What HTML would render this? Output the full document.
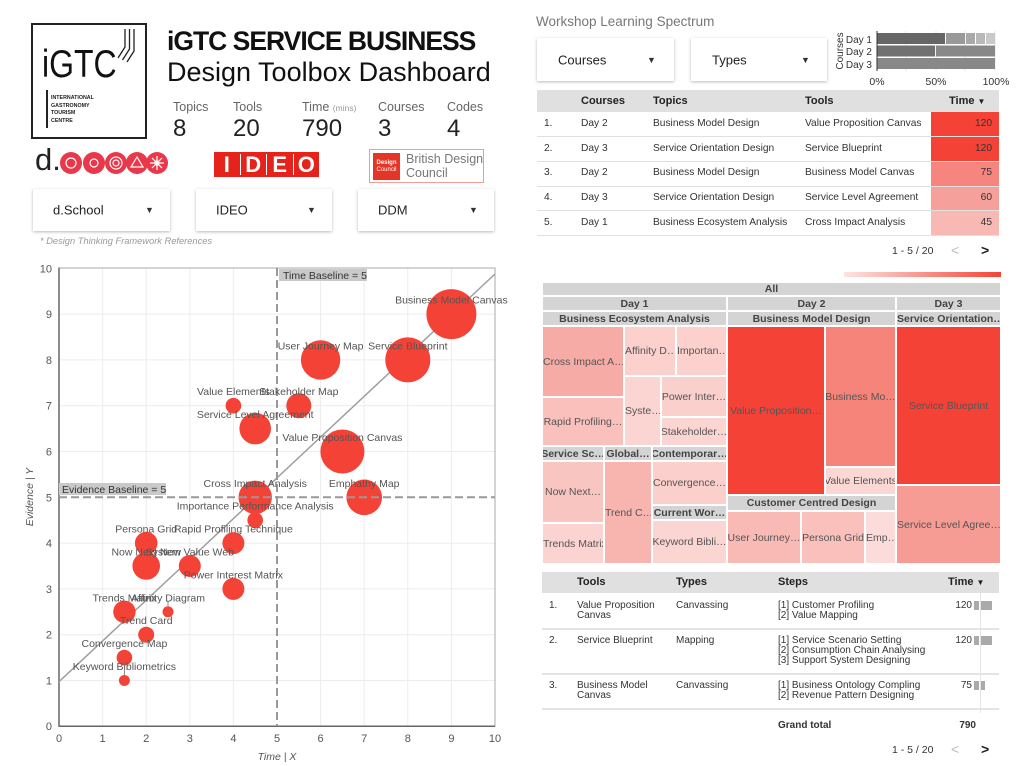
<!DOCTYPE html>
<html><head><meta charset="utf-8">
<style>
*{margin:0;padding:0;box-sizing:border-box}
body{width:1023px;height:766px;background:#fff;position:relative;overflow:hidden;font-family:"Liberation Sans",Arial,sans-serif;color:#222}
.a{position:absolute}
.dd{position:absolute;background:#fff;box-shadow:0 1px 3px rgba(0,0,0,.28);font-size:13px;color:#222}
.dd span{position:absolute;top:50%;transform:translateY(-50%)}
.dd i{position:absolute;top:50%;transform:translateY(-50%);font-style:normal;font-size:9px;color:#333}
.kl{position:absolute;font-size:12.5px;color:#666}
.kv{position:absolute;font-size:24px;color:#222}
.tb{position:absolute;font-size:10.2px;color:#333;white-space:nowrap}
.th{position:absolute;font-size:11px;font-weight:bold;color:#222;white-space:nowrap}
.tm{position:absolute;border:1px solid #fff;overflow:hidden;white-space:nowrap;display:flex;align-items:center;justify-content:center;font-size:10.5px;color:#555}
.tm.h{background:#d4d4d4;font-weight:bold;color:#444;font-size:10.5px}
.sm{position:absolute;font-size:10px;color:#333;white-space:nowrap;line-height:10px}
.ideo{flex:1;color:#fff;font-weight:bold;font-size:22px;line-height:21px;text-align:center;border-right:1px solid #fff}
</style></head><body>

<!-- Logo -->
<div class="a" style="left:31px;top:23px;width:116px;height:116px;border:2.5px solid #222"></div>
<div class="a" style="left:42px;top:41px;font-size:39px;color:#111;transform:scaleX(0.82);transform-origin:left top;line-height:48px">iGTC</div>
<div class="a" style="left:46px;top:90px;width:1.5px;height:38px;background:#222"></div>
<div class="a" style="left:51px;top:95px;font-size:5.3px;font-weight:bold;line-height:7.6px;color:#222">INTERNATIONAL<br>GASTRONOMY<br>TOURISM<br>CENTRE</div>

<!-- Title -->
<div class="a" style="left:167px;top:26px;font-size:26.5px;font-weight:bold;letter-spacing:-1px;color:#111;line-height:30px">iGTC SERVICE BUSINESS</div>
<div class="a" style="left:167px;top:56px;font-size:27px;color:#111;line-height:32px">Design Toolbox Dashboard</div>

<!-- KPIs -->
<div class="kl" style="left:173px;top:100px">Topics</div>
<div class="kl" style="left:233px;top:100px">Tools</div>
<div class="kl" style="left:302px;top:100px">Time <span style="font-size:8.5px;color:#999">(mins)</span></div>
<div class="kl" style="left:378px;top:100px">Courses</div>
<div class="kl" style="left:447px;top:100px">Codes</div>
<div class="kv" style="left:173px;top:115px">8</div>
<div class="kv" style="left:233px;top:115px">20</div>
<div class="kv" style="left:302px;top:115px">790</div>
<div class="kv" style="left:378px;top:115px">3</div>
<div class="kv" style="left:447px;top:115px">4</div>

<!-- d.school -->
<div class="a" style="left:35px;top:143px;font-size:31px;color:#222;line-height:34px">d.</div>

<!-- IDEO -->
<div class="a" style="left:214px;top:152px;width:105px;height:25px;background:#e5231b;display:flex;padding:2px 0">
<div class="ideo">I</div>
<div class="ideo">D</div>
<div class="ideo">E</div>
<div class="ideo" style="border-right:none">O</div>
</div>

<!-- Design council -->
<div class="a" style="left:369px;top:149px;width:115px;height:34px;border:1.5px solid #f19a96"></div>
<div class="a" style="left:373px;top:153px;width:27px;height:27px;background:#e53527;color:#fff;font-size:6px;font-weight:bold;line-height:7px;padding-top:7px;text-align:center">Design<br><span style="font-weight:normal">Council</span></div>
<div class="a" style="left:406px;top:153px;font-size:12.5px;color:#777;line-height:13.5px">British Design<br>Council</div>

<!-- Dropdowns -->
<div class="dd" style="left:33px;top:189px;width:137px;height:42px"><span style="left:20px">d.School</span><i style="left:112px">▼</i></div>
<div class="dd" style="left:196px;top:189px;width:136px;height:42px"><span style="left:20px">IDEO</span><i style="left:111px">▼</i></div>
<div class="dd" style="left:358px;top:189px;width:136px;height:42px"><span style="left:20px">DDM</span><i style="left:111px">▼</i></div>
<div class="a" style="left:40px;top:236px;font-size:9.3px;font-style:italic;color:#999">* Design Thinking Framework References</div>

<!-- Top right -->
<div class="a" style="left:536px;top:14px;font-size:13.5px;color:#777">Workshop Learning Spectrum</div>
<div class="dd" style="left:537px;top:38px;width:137px;height:43px"><span style="left:21px">Courses</span><i style="left:110px">▼</i></div>
<div class="dd" style="left:691px;top:38px;width:136px;height:43px"><span style="left:21px">Types</span><i style="left:110px">▼</i></div>

<!-- Top table -->
<div class="a" style="left:537px;top:90px;width:462px;height:22px;background:#e0e0e0"></div>
<div class="th" style="left:581px;top:95px">Courses</div>
<div class="th" style="left:653px;top:95px">Topics</div>
<div class="th" style="left:805px;top:95px">Tools</div>
<div class="th" style="left:949px;top:95px">Time <span style="font-size:8px">▼</span></div>

<div class="a" style="left:931px;top:112px;width:68px;height:24px;background:#f44336"></div>
<div class="a" style="left:931px;top:137px;width:68px;height:24px;background:#f44336"></div>
<div class="a" style="left:931px;top:162px;width:68px;height:24px;background:#f6867d"></div>
<div class="a" style="left:931px;top:187px;width:68px;height:23px;background:#f5a09a"></div>
<div class="a" style="left:931px;top:211px;width:68px;height:24px;background:#f8b8b3"></div>
<div class="a" style="left:537px;top:136px;width:462px;height:1px;background:#e0e0e0"></div>
<div class="a" style="left:537px;top:161px;width:462px;height:1px;background:#e0e0e0"></div>
<div class="a" style="left:537px;top:186px;width:462px;height:1px;background:#e0e0e0"></div>
<div class="a" style="left:537px;top:210px;width:462px;height:1px;background:#e0e0e0"></div>
<div class="a" style="left:537px;top:235px;width:462px;height:1px;background:#e0e0e0"></div>

<div class="tb" style="left:544px;top:118px">1.</div><div class="tb" style="left:581px;top:118px">Day 2</div><div class="tb" style="left:653px;top:118px">Business Model Design</div><div class="tb" style="left:805px;top:118px">Value Proposition Canvas</div><div class="tb" style="left:962px;top:118px;width:30px;text-align:right">120</div>
<div class="tb" style="left:544px;top:143px">2.</div><div class="tb" style="left:581px;top:143px">Day 3</div><div class="tb" style="left:653px;top:143px">Service Orientation Design</div><div class="tb" style="left:805px;top:143px">Service Blueprint</div><div class="tb" style="left:962px;top:143px;width:30px;text-align:right">120</div>
<div class="tb" style="left:544px;top:167px">3.</div><div class="tb" style="left:581px;top:167px">Day 2</div><div class="tb" style="left:653px;top:167px">Business Model Design</div><div class="tb" style="left:805px;top:167px">Business Model Canvas</div><div class="tb" style="left:962px;top:167px;width:30px;text-align:right">75</div>
<div class="tb" style="left:544px;top:192px">4.</div><div class="tb" style="left:581px;top:192px">Day 3</div><div class="tb" style="left:653px;top:192px">Service Orientation Design</div><div class="tb" style="left:805px;top:192px">Service Level Agreement</div><div class="tb" style="left:962px;top:192px;width:30px;text-align:right">60</div>
<div class="tb" style="left:544px;top:217px">5.</div><div class="tb" style="left:581px;top:217px">Day 1</div><div class="tb" style="left:653px;top:217px">Business Ecosystem Analysis</div><div class="tb" style="left:805px;top:217px">Cross Impact Analysis</div><div class="tb" style="left:962px;top:217px;width:30px;text-align:right">45</div>

<div class="tb" style="left:892px;top:245px;font-size:10.5px">1 - 5 / 20</div>
<div class="tb" style="left:951px;top:242px;font-size:14px;color:#bbb">&lt;</div>
<div class="tb" style="left:981px;top:242px;font-size:14px;color:#222;font-weight:bold">&gt;</div>

<!-- Treemap -->
<div class="a" style="left:844px;top:272px;width:157px;height:5px;background:linear-gradient(to right,#fde4e2,#f44336)"></div>
<div class="tm h" style="left:542px;top:282px;width:459px;height:14px">All</div>
<div class="tm h" style="left:542px;top:296px;width:185px;height:15px">Day 1</div>
<div class="tm h" style="left:727px;top:296px;width:169px;height:15px">Day 2</div>
<div class="tm h" style="left:896px;top:296px;width:105px;height:15px">Day 3</div>
<div class="tm h" style="left:542px;top:311px;width:185px;height:15px">Business Ecosystem Analysis</div>
<div class="tm h" style="left:727px;top:311px;width:169px;height:15px">Business Model Design</div>
<div class="tm h" style="left:896px;top:311px;width:105px;height:15px;justify-content:flex-start">Service Orientation…</div>

<div class="tm" style="left:542px;top:326px;width:82px;height:71px;background:#f7aba6;justify-content:flex-start">Cross Impact A…</div>
<div class="tm" style="left:624px;top:326px;width:52px;height:50px;background:#fbd0cd;justify-content:flex-start">Affinity D…</div>
<div class="tm" style="left:676px;top:326px;width:51px;height:50px;background:#fbd0cd;justify-content:flex-start">Importan…</div>
<div class="tm" style="left:624px;top:376px;width:37px;height:70px;background:#fbd5d2;justify-content:flex-start">Syste…</div>
<div class="tm" style="left:661px;top:376px;width:66px;height:41px;background:#fad0cc">Power Inter…</div>
<div class="tm" style="left:661px;top:417px;width:66px;height:29px;background:#fbd5d2">Stakeholder…</div>
<div class="tm" style="left:542px;top:397px;width:82px;height:49px;background:#f9c0bc">Rapid Profiling…</div>
<div class="tm h" style="left:542px;top:446px;width:62px;height:15px">Service Sc…</div>
<div class="tm h" style="left:604px;top:446px;width:48px;height:15px">Global…</div>
<div class="tm h" style="left:652px;top:446px;width:75px;height:15px">Contemporar…</div>
<div class="tm" style="left:542px;top:461px;width:62px;height:62px;background:#f9c5c1">Now Next…</div>
<div class="tm" style="left:542px;top:523px;width:62px;height:41px;background:#fbd3d0;justify-content:flex-start">Trends Matrix</div>
<div class="tm" style="left:604px;top:461px;width:48px;height:103px;background:#f8b4af;justify-content:flex-start">Trend C…</div>
<div class="tm" style="left:652px;top:461px;width:75px;height:44px;background:#fbcfcb">Convergence…</div>
<div class="tm h" style="left:652px;top:505px;width:75px;height:15px">Current Wor…</div>
<div class="tm" style="left:652px;top:520px;width:75px;height:44px;background:#fbd5d2">Keyword Bibli…</div>
<div class="tm" style="left:727px;top:326px;width:98px;height:169px;background:#f44336">Value Proposition…</div>
<div class="tm" style="left:825px;top:326px;width:71px;height:141px;background:#f6847a">Business Mo…</div>
<div class="tm" style="left:825px;top:467px;width:71px;height:28px;background:#fcd8d5">Value Elements</div>
<div class="tm h" style="left:727px;top:495px;width:169px;height:16px">Customer Centred Design</div>
<div class="tm" style="left:727px;top:511px;width:74px;height:53px;background:#f9bab6">User Journey…</div>
<div class="tm" style="left:801px;top:511px;width:64px;height:53px;background:#f9c0bc">Persona Grid</div>
<div class="tm" style="left:865px;top:511px;width:31px;height:53px;background:#fcdcda;justify-content:flex-start">Emp…</div>
<div class="tm" style="left:896px;top:326px;width:105px;height:159px;background:#f44336">Service Blueprint</div>
<div class="tm" style="left:896px;top:485px;width:105px;height:79px;background:#f69c95;justify-content:flex-start">Service Level Agree…</div>

<!-- Bottom table -->
<div class="a" style="left:542px;top:572px;width:457px;height:21px;background:#e0e0e0"></div>
<div class="th" style="left:577px;top:576px">Tools</div>
<div class="th" style="left:676px;top:576px">Types</div>
<div class="th" style="left:778px;top:576px">Steps</div>
<div class="th" style="left:948px;top:576px">Time <span style="font-size:8px">▼</span></div>
<div class="a" style="left:980px;top:593px;width:1px;height:120px;background:#e4e4e4"></div>
<div class="a" style="left:542px;top:628px;width:457px;height:1.5px;background:#e4e4e4"></div>
<div class="a" style="left:542px;top:673px;width:457px;height:1.5px;background:#e4e4e4"></div>
<div class="a" style="left:542px;top:708px;width:457px;height:1.5px;background:#e4e4e4"></div>

<div class="sm" style="left:549px;top:601px">1.</div>
<div class="sm" style="left:577px;top:601px">Value Proposition<br>Canvas</div>
<div class="sm" style="left:676px;top:601px">Canvassing</div>
<div class="sm" style="left:778px;top:601px">[1] Customer Profiling<br>[2] Value Mapping</div>
<div class="sm" style="left:940px;top:601px;width:32px;text-align:right">120</div>
<div class="a" style="left:974px;top:601px;width:5px;height:9px;background:#aaa"></div><div class="a" style="left:981px;top:601px;width:11px;height:9px;background:#aaa"></div>

<div class="sm" style="left:549px;top:636px">2.</div>
<div class="sm" style="left:577px;top:636px">Service Blueprint</div>
<div class="sm" style="left:676px;top:636px">Mapping</div>
<div class="sm" style="left:778px;top:636px">[1] Service Scenario Setting<br>[2] Consumption Chain Analysing<br>[3] Support System Designing</div>
<div class="sm" style="left:940px;top:636px;width:32px;text-align:right">120</div>
<div class="a" style="left:974px;top:636px;width:5px;height:9px;background:#aaa"></div><div class="a" style="left:981px;top:636px;width:11px;height:9px;background:#aaa"></div>

<div class="sm" style="left:549px;top:681px">3.</div>
<div class="sm" style="left:577px;top:681px">Business Model<br>Canvas</div>
<div class="sm" style="left:676px;top:681px">Canvassing</div>
<div class="sm" style="left:778px;top:681px">[1] Business Ontology Compling<br>[2] Revenue Pattern Designing</div>
<div class="sm" style="left:940px;top:681px;width:32px;text-align:right">75</div>
<div class="a" style="left:974px;top:681px;width:5px;height:9px;background:#aaa"></div><div class="a" style="left:981px;top:681px;width:4px;height:9px;background:#aaa"></div>

<div class="sm" style="left:778px;top:721px;font-weight:bold">Grand total</div>
<div class="sm" style="left:940px;top:721px;width:36px;text-align:right;font-weight:bold">790</div>
<div class="tb" style="left:892px;top:744px;font-size:10.5px">1 - 5 / 20</div>
<div class="tb" style="left:951px;top:741px;font-size:14px;color:#bbb">&lt;</div>
<div class="tb" style="left:981px;top:741px;font-size:14px;color:#222;font-weight:bold">&gt;</div>

<svg class="a" style="left:0;top:0" width="1023" height="766" viewBox="0 0 1023 766" font-family="Liberation Sans, Arial, sans-serif">
<!-- logo slashes -->
<g stroke="#222" stroke-width="1.3" fill="none">
<polyline points="125,29 125,47 118,58"/>
<polyline points="129.5,29 129.5,49 122.5,60"/>
<polyline points="134,29 134,51 127,62"/>
</g>
<!-- d.school circles -->
<g fill="#e8384a">
<circle cx="71" cy="163" r="11"/><circle cx="94" cy="163" r="11"/><circle cx="116" cy="163" r="11"/><circle cx="137" cy="163" r="11"/><circle cx="157" cy="163" r="11"/>
</g>
<g fill="none" stroke="#fff" stroke-width="1.2">
<circle cx="71" cy="163" r="5"/><circle cx="94" cy="163" r="4"/><circle cx="116" cy="163" r="6"/><circle cx="116" cy="163" r="3"/><polygon points="137,157 143,167 131,167"/><circle cx="157" cy="163" r="2"/>
<path d="M157 156v14M150 163h14M152 158l10 10M162 158l-10 10"/>
</g>

<!-- stacked bar chart -->
<g stroke="#e6e6e6" stroke-width="1"><line x1="906" y1="31" x2="906" y2="71"/><line x1="936" y1="31" x2="936" y2="71"/><line x1="965" y1="31" x2="965" y2="71"/><line x1="995" y1="31" x2="995" y2="71"/></g>
<rect x="877" y="33" width="68" height="11" fill="#666"/>
<rect x="946" y="33" width="19" height="11" fill="#999"/>
<rect x="966" y="33" width="9" height="11" fill="#a9a9a9"/>
<rect x="976" y="33" width="9" height="11" fill="#b9b9b9"/>
<rect x="986" y="33" width="9" height="11" fill="#c9c9c9"/>
<rect x="877" y="45.5" width="58" height="11" fill="#717171"/>
<rect x="936" y="45.5" width="59" height="11" fill="#888"/>
<rect x="877" y="58" width="118" height="11" fill="#888"/>
<line x1="877" y1="31" x2="877" y2="71" stroke="#333" stroke-width="1"/>
<g font-size="10" fill="#333" text-anchor="end"><text x="872" y="43">Day 1</text><text x="872" y="55">Day 2</text><text x="872" y="68">Day 3</text></g>
<text transform="translate(843,51) rotate(-90)" font-size="10" fill="#333" text-anchor="middle">Courses</text>
<g font-size="10.5" fill="#333" text-anchor="middle"><text x="877" y="85">0%</text><text x="936" y="85">50%</text><text x="996" y="85">100%</text></g>

<!-- scatter grid -->
<g stroke="#ececec" stroke-width="1">
<line x1="102.6" y1="268" x2="102.6" y2="726"/><line x1="146.2" y1="268" x2="146.2" y2="726"/><line x1="189.8" y1="268" x2="189.8" y2="726"/><line x1="233.4" y1="268" x2="233.4" y2="726"/><line x1="320.6" y1="268" x2="320.6" y2="726"/><line x1="364.2" y1="268" x2="364.2" y2="726"/><line x1="407.8" y1="268" x2="407.8" y2="726"/><line x1="451.4" y1="268" x2="451.4" y2="726"/>
<line x1="59" y1="680.5" x2="495" y2="680.5"/><line x1="59" y1="634.7" x2="495" y2="634.7"/><line x1="59" y1="588.9" x2="495" y2="588.9"/><line x1="59" y1="543.1" x2="495" y2="543.1"/><line x1="59" y1="451.5" x2="495" y2="451.5"/><line x1="59" y1="405.7" x2="495" y2="405.7"/><line x1="59" y1="359.9" x2="495" y2="359.9"/><line x1="59" y1="314.1" x2="495" y2="314.1"/>
</g>
<rect x="59" y="268" width="436" height="458" fill="none" stroke="#aaa" stroke-width="1"/>
<line x1="59" y1="267.5" x2="59" y2="726.5" stroke="#666" stroke-width="1.5"/>
<line x1="58.5" y1="726.3" x2="495" y2="726.3" stroke="#666" stroke-width="1.5"/>
<!-- trend -->
<line x1="59" y1="681.7" x2="495" y2="274" stroke="#9e9e9e" stroke-width="1.5"/>
<!-- bubbles -->
<g fill="#f44336">
<circle cx="451.4" cy="314.1" r="25"/>
<circle cx="407.8" cy="359.9" r="22.5"/>
<circle cx="320.6" cy="359.9" r="19.7"/>
<circle cx="233.4" cy="405.7" r="7.8"/>
<circle cx="298.8" cy="405.7" r="12.5"/>
<circle cx="255.2" cy="428.6" r="15.8"/>
<circle cx="342.4" cy="451.5" r="22"/>
<circle cx="255.2" cy="497.3" r="16.7"/>
<circle cx="364.2" cy="497.3" r="17.8"/>
<circle cx="255.2" cy="520.2" r="7.8"/>
<circle cx="233.4" cy="543.1" r="11"/>
<circle cx="146.2" cy="543.1" r="11.3"/>
<circle cx="146.2" cy="566" r="13.8"/>
<circle cx="189.8" cy="566" r="11"/>
<circle cx="233.4" cy="588.9" r="11"/>
<circle cx="124.4" cy="611.8" r="11.2"/>
<circle cx="168" cy="611.8" r="5.5"/>
<circle cx="146.2" cy="634.7" r="8"/>
<circle cx="124.4" cy="657.6" r="7.8"/>
<circle cx="124.4" cy="680.5" r="5.5"/>
</g>
<g stroke="#888" stroke-width="1"><line x1="168" y1="601" x2="168" y2="606"/><line x1="124.4" y1="670" x2="124.4" y2="675"/></g>
<!-- dashed baselines -->
<line x1="277" y1="268" x2="277" y2="726" stroke="#999" stroke-width="2" stroke-dasharray="8,4"/>
<line x1="59" y1="497.3" x2="495" y2="497.3" stroke="#999" stroke-width="2" stroke-dasharray="8,4"/>
<rect x="279" y="269" width="88" height="12" fill="#c9c9c9"/>
<text x="283" y="279" font-size="10.5" fill="#333">Time Baseline = 5</text>
<rect x="59" y="483" width="107" height="12" fill="#c9c9c9"/>
<text x="62" y="493" font-size="10.5" fill="#333">Evidence Baseline = 5</text>
<!-- bubble labels -->
<g font-size="10.5" fill="#555" text-anchor="middle">
<text x="451.4" y="303.6">Business Model Canvas</text>
<text x="407.8" y="349.4">Service Blueprint</text>
<text x="320.6" y="349.4">User Journey Map</text>
<text x="233.4" y="395.2">Value Elements</text>
<text x="298.8" y="395.2">Stakeholder Map</text>
<text x="255.2" y="418.1">Service Level Agreement</text>
<text x="342.4" y="441">Value Proposition Canvas</text>
<text x="255.2" y="486.8">Cross Impact Analysis</text>
<text x="364.2" y="486.8">Emphathy Map</text>
<text x="255.2" y="509.7">Importance Performance Analysis</text>
<text x="233.4" y="532.6">Rapid Profiling Technique</text>
<text x="146.2" y="532.6">Persona Grid</text>
<text x="146.2" y="555.5">Now Next New</text>
<text x="189.8" y="555.5">System Value Web</text>
<text x="233.4" y="578.4">Power Interest Matrix</text>
<text x="124.4" y="601.3">Trends Matrix</text>
<text x="168" y="601.3">Affinity Diagram</text>
<text x="146.2" y="624.2">Trend Card</text>
<text x="124.4" y="647.1">Convergence Map</text>
<text x="124.4" y="670">Keyword Bibliometrics</text>
</g>
<!-- axis ticks -->
<g font-size="11" fill="#555" text-anchor="end">
<text x="52" y="730">0</text><text x="52" y="684.5">1</text><text x="52" y="638.7">2</text><text x="52" y="592.9">3</text><text x="52" y="547.1">4</text><text x="52" y="501.3">5</text><text x="52" y="455.5">6</text><text x="52" y="409.7">7</text><text x="52" y="363.9">8</text><text x="52" y="318.1">9</text><text x="52" y="272.3">10</text>
</g>
<g font-size="11" fill="#555" text-anchor="middle">
<text x="59" y="742">0</text><text x="102.6" y="742">1</text><text x="146.2" y="742">2</text><text x="189.8" y="742">3</text><text x="233.4" y="742">4</text><text x="277" y="742">5</text><text x="320.6" y="742">6</text><text x="364.2" y="742">7</text><text x="407.8" y="742">8</text><text x="451.4" y="742">9</text><text x="495" y="742">10</text>
</g>
<text x="277" y="760" font-size="10.5" font-style="italic" fill="#555" text-anchor="middle">Time | X</text>
<text transform="translate(33,497) rotate(-90)" font-size="10.5" font-style="italic" fill="#555" text-anchor="middle">Evidence | Y</text>
</svg>
</body></html>
